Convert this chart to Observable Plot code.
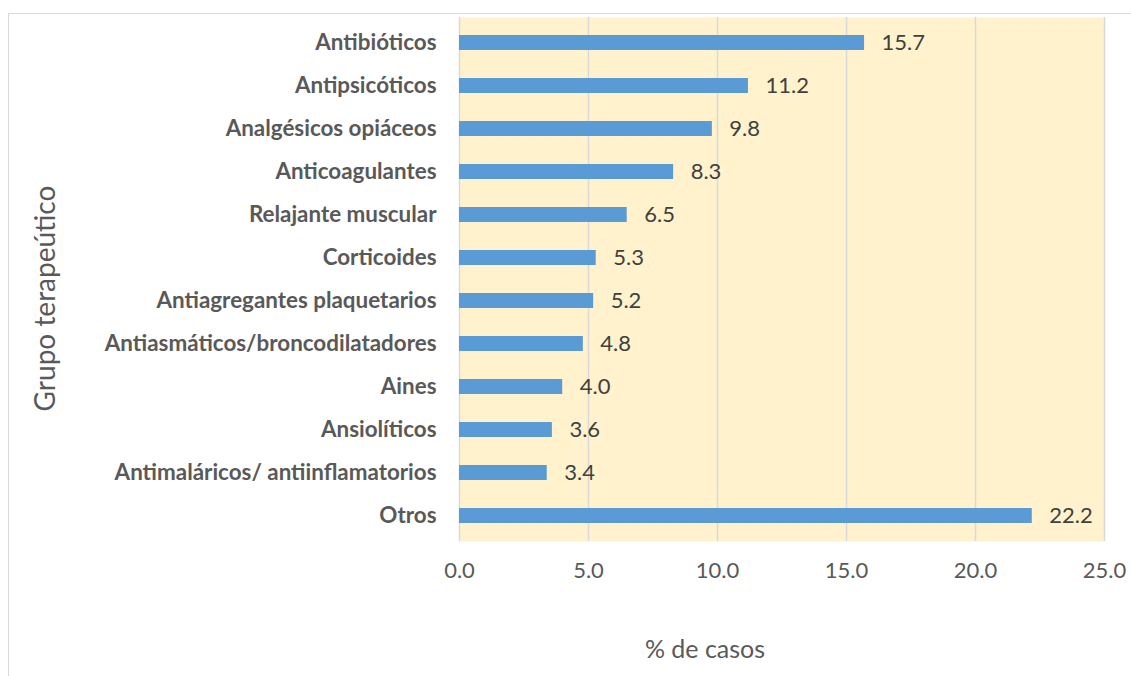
<!DOCTYPE html>
<html>
<head>
<meta charset="utf-8">
<script src="https://cdn.jsdelivr.net/npm/d3@7"></script>
<script src="https://cdn.jsdelivr.net/npm/@observablehq/plot@0.6"></script>
<style>
  html, body { margin: 0; padding: 0; background: #fff; }
  #wrap { position: relative; width: 1131px; height: 676px; overflow: hidden; }
  #border { position: absolute; left: 8px; top: 13px; width: 1140px; height: 700px; border: 1.5px solid #d9d9d9; pointer-events: none; }
  svg { font-family: Lato, "Open Sans", sans-serif; }
</style>
</head>
<body>
<div id="wrap"><div id="border"></div></div>
<script>
const categories = [
  "Antibióticos",
  "Antipsicóticos",
  "Analgésicos opiáceos",
  "Anticoagulantes",
  "Relajante muscular",
  "Corticoides",
  "Antiagregantes plaquetarios",
  "Antiasmáticos/broncodilatadores",
  "Aines",
  "Ansiolíticos",
  "Antimaláricos/ antiinflamatorios",
  "Otros"
];
const values = [15.7, 11.2, 9.8, 8.3, 6.5, 5.3, 5.2, 4.8, 4.0, 3.6, 3.4, 22.2];
const xTicks = [0, 5, 10, 15, 20, 25];
const xTitle = "% de casos";
const yTitle = "Grupo terapeútico";

const data = categories.map((c, i) => ({category: c, value: values[i]}));

const chart = Plot.plot({
  width: 1131,
  height: 676,
  marginLeft: 459,
  marginRight: 27,
  marginTop: 17,
  marginBottom: 135,
  style: {background: "transparent", overflow: "visible"},
  x: {domain: [0, 25], ticks: xTicks},
  y: {domain: categories, paddingInner: 0.66, paddingOuter: 0.33},
  marks: [
    Plot.frame({fill: "#FFF2CC", stroke: null}),
    Plot.gridX(xTicks, {stroke: "#d9d9d9", strokeOpacity: 1, strokeWidth: 1.5}),
    Plot.barX(data, {x: "value", y: "category", fill: "#5B9BD5"}),
    Plot.text(data, {x: "value", y: "category", text: d => d.value.toFixed(1), dx: 17, textAnchor: "start", fontSize: 22, fill: "#404040"}),
    Plot.axisX(xTicks, {tickSize: 0, tickPadding: 21, tickFormat: d => d.toFixed(1), fontSize: 22, color: "#595959", label: null}),
    Plot.axisY({tickSize: 0, tickPadding: 23, fontSize: 22.4, fontWeight: "bold", color: "#595959", label: null}),
    Plot.text([xTitle], {frameAnchor: "bottom", dx: -77, dy: 108, text: d => d, fontSize: 25, fill: "#595959", textAnchor: "middle", lineAnchor: "middle"}),
    Plot.text([yTitle], {frameAnchor: "left", dx: -413, dy: 19, rotate: -90, text: d => d, fontSize: 28, fill: "#595959", textAnchor: "middle", lineAnchor: "middle"})
  ]
});
document.getElementById("wrap").prepend(chart);
</script>
</body>
</html>
